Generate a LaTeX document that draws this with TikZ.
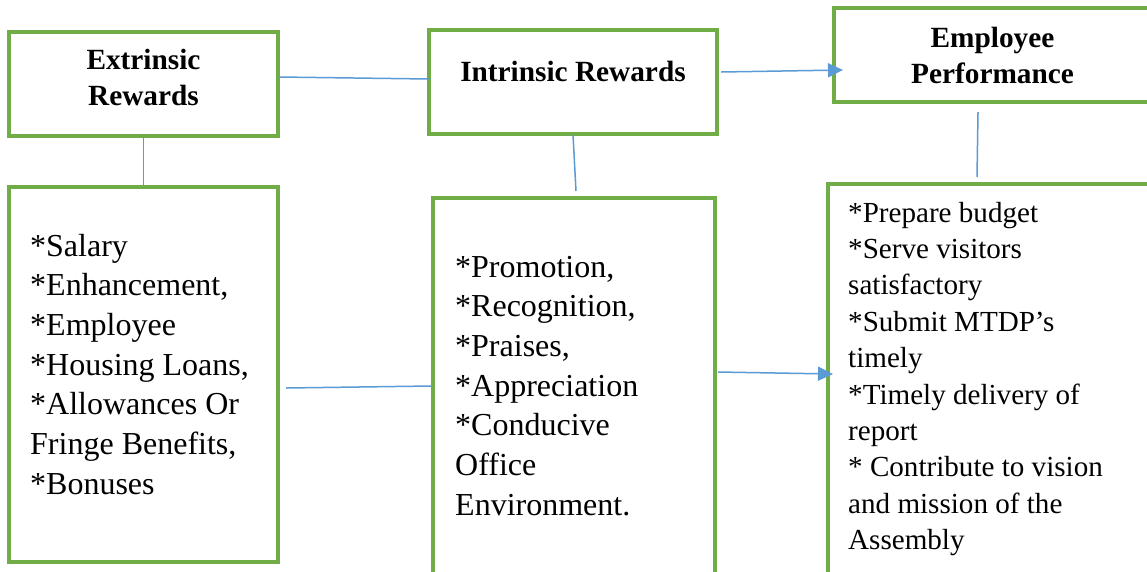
\documentclass[tikz,border=0pt]{standalone}
\usepackage{fontspec}
\setmainfont{Liberation Serif}
\usetikzlibrary{arrows.meta,calc}
\definecolor{boxgreen}{HTML}{70AD47}
\definecolor{linkblue}{HTML}{5B9BD5}
\tikzset{
  box/.style={draw=boxgreen, line width=3.1pt, rectangle, inner sep=0pt, outer sep=0pt, anchor=north west},
  head/.style={font=\bfseries\fontsize{29.3}{36}\selectfont, align=flush center, text width=300pt, inner sep=0pt, anchor=base},
  body/.style={font=\fontsize{32}{39.7}\selectfont, align=flush left, text width=330pt, inner sep=0pt, anchor=base west},
  bodysmall/.style={font=\fontsize{29.1}{36.4}\selectfont, align=flush left, text width=330pt, inner sep=0pt, anchor=base west},
  link/.style={draw=linkblue, line width=1.5pt},
  arr/.style={link, -{Triangle[length=15pt,width=14pt]}}
}
\begin{document}
\begin{tikzpicture}[x=1pt,y=-1pt]
\useasboundingbox (0,0) rectangle (1147,571);
\clip (0,0) rectangle (1147,571);
\fill[white] (0,0) rectangle (1147,571);
% boxes
\node[box, minimum width=269pt, minimum height=104pt] (A) at (9,32) {};
\node[box, minimum width=288pt, minimum height=104pt] (B) at (429,30) {};
\node[box, minimum width=318pt, minimum height=94pt] (C) at (834,8) {};
\node[box, minimum width=269pt, minimum height=375pt] (D) at (9,187) {};
\node[box, minimum width=282pt, minimum height=420pt] (E) at (433,198) {};
\node[box, minimum width=330pt, minimum height=420pt] (F) at (828,184) {};
% headings
\node[head] (hA) at (143.5,69) {Extrinsic\\Rewards};
\node[head] (hB) at (573,81) {Intrinsic Rewards};
\node[head] (hC) at (992.5,47) {Employee\\Performance};
% lists
\node[body] (tD) at (30,256) {*Salary\\{}*Enhancement,\\{}*Employee\\{}*Housing Loans,\\{}*Allowances Or\\Fringe Benefits,\\{}*Bonuses};
\node[body] (tE) at (455,277) {*Promotion,\\{}*Recognition,\\{}*Praises,\\{}*Appreciation\\{}*Conducive\\Office\\Environment.};
\node[bodysmall] (tF) at (848,222) {*Prepare budget\\{}*Serve visitors\\satisfactory\\{}*Submit MTDP’s\\timely\\{}*Timely delivery of\\report\\{}* Contribute to vision\\and mission of the\\Assembly};
% connectors
\draw[link] ($(A.east)+(1,-7)$) -- ($(B.west)+(0,-3)$);
\draw[arr] ($(B.east)+(4,-10)$) -- ($(C.west)+(9,15)$);
\draw[link] (A.south) -- (D.north);
\draw[link] ($(B.south)+(0,1)$) -- ($(E.north)+(2,-7)$);
\draw[link] ($(C.south)+(-15,10)$) -- ($(F.north)+(-16,-7)$);
\draw[link] ($(D.east)+(8,13.5)$) -- ($(E.west)+(-2,-22)$);
\draw[arr] ($(E.east)+(3,-36)$) -- ($(F.west)+(5,-20)$);
\end{tikzpicture}
\end{document}
